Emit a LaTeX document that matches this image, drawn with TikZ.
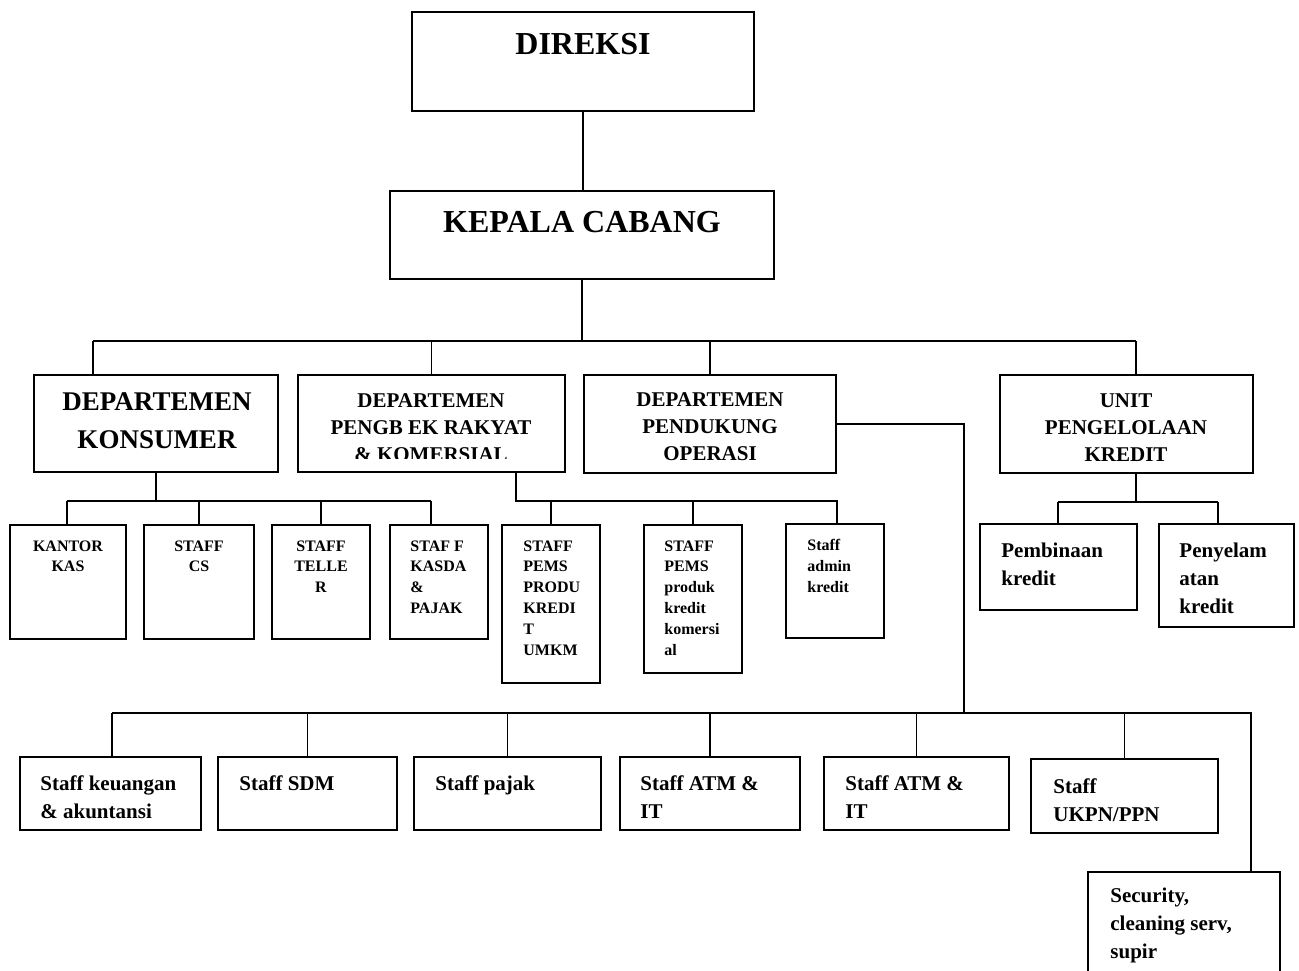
\documentclass[tikz,border=0pt]{standalone}
\usepackage{fontspec}
\setmainfont{Liberation Serif}
\tikzset{
  orgbox/.style={draw, line width=0.9pt, inner sep=0pt},
  boxtext/.style={inner sep=0pt},
  link/.style={line width=0.9pt},
  fbig/.style={font=\bfseries\fontsize{16}{19}\selectfont},
  fkons/.style={font=\bfseries\fontsize{13.5}{19}\selectfont},
  fdept/.style={font=\bfseries\fontsize{10.5}{13.5}\selectfont},
  fsmall/.style={font=\bfseries\fontsize{8}{10.4}\selectfont},
  fmid/.style={font=\bfseries\fontsize{10.5}{14}\selectfont},
}
\begin{document}
\begin{tikzpicture}[x=0.5pt, y=-0.5pt]
        \useasboundingbox (0,0) rectangle (1299,970);
        \clip (0,0) rectangle (1299,970);

        % Draw the top of the chart
        \node[orgbox, minimum width=171pt, minimum height=49.5pt] (dir) at (583,61.5) {};
        \node[boxtext, fbig, anchor=north] (tdir) at (583,33) {DIREKSI};
        \node[orgbox, minimum width=192pt, minimum height=44pt] (kc) at (582,235) {};
        \node[boxtext, fbig, anchor=north] (tkc) at (582,211) {KEPALA CABANG};

        % Draw the departments
        \node[orgbox, minimum width=122pt, minimum height=48.5pt] (kons) at (156,423.5) {};
        \node[boxtext, fkons, anchor=north, align=center] (tkons) at (157,392) {DEPARTEMEN\\KONSUMER};
        \node[orgbox, minimum width=133.5pt, minimum height=48.5pt] (pengb) at (431.5,423.5) {};
        \begin{scope}
          \clip (298,375) rectangle (565,458);
          \node[boxtext, fdept, anchor=north, align=center] (tpengb) at (431,393) {DEPARTEMEN\\PENGB EK RAKYAT\\\& KOMERSIAL};
        \end{scope}
        \node[orgbox, minimum width=126pt, minimum height=49pt] (pend) at (710,424) {};
        \node[boxtext, fdept, anchor=north, align=center] (tpend) at (710,392) {DEPARTEMEN\\PENDUKUNG\\OPERASI};
        \node[orgbox, minimum width=126.5pt, minimum height=49pt] (unit) at (1126.5,424) {};
        \node[boxtext, fdept, anchor=north, align=center] (tunit) at (1126,393) {UNIT\\PENGELOLAAN\\KREDIT};

        % Draw the staff of the consumer department
        \node[orgbox, minimum width=58pt, minimum height=57pt] (kas) at (68,582) {};
        \node[boxtext, fsmall, anchor=north, align=center] (tkas) at (68,540) {KANTOR\\KAS};
        \node[orgbox, minimum width=55pt, minimum height=57pt] (cs) at (199,582) {};
        \node[boxtext, fsmall, anchor=north, align=center] (tcs) at (199,540) {STAFF\\CS};
        \node[orgbox, minimum width=49pt, minimum height=57pt] (teller) at (321,582) {};
        \node[boxtext, fsmall, anchor=north, align=center] (tteller) at (321,540) {STAFF\\TELLE\\R};
        \node[orgbox, minimum width=49pt, minimum height=57pt] (kasda) at (439,582) {};
        \node[boxtext, fsmall, anchor=north west, align=left] (tkasda) at (410,540) {STAF F\\KASDA\\\&\\PAJAK};

        % Draw the staff of the second department
        \node[orgbox, minimum width=49pt, minimum height=79pt] (umkm) at (551,604) {};
        \node[boxtext, fsmall, anchor=north west, align=left] (tumkm) at (523,540) {STAFF\\PEMS\\PRODU\\KREDI\\T\\UMKM};
        \node[orgbox, minimum width=49pt, minimum height=74pt] (komersial) at (693,599) {};
        \node[boxtext, fsmall, anchor=north west, align=left] (tkomersial) at (664,540) {STAFF\\PEMS\\produk\\kredit\\komersi\\al};
        \node[orgbox, minimum width=49pt, minimum height=57pt] (admin) at (835,581) {};
        \node[boxtext, fsmall, anchor=north west, align=left] (tadmin) at (807,539) {Staff\\admin\\kredit};

        % Draw the staff of the credit unit
        \node[orgbox, minimum width=78.5pt, minimum height=43pt] (pemb) at (1058.5,567) {};
        \node[boxtext, fmid, anchor=north west, align=left] (tpemb) at (1001,543) {Pembinaan\\kredit};
        \node[orgbox, minimum width=67.5pt, minimum height=51.5pt] (peny) at (1226.5,575.5) {};
        \node[boxtext, fmid, anchor=north west, align=left] (tpeny) at (1179,543) {Penyelam\\atan\\kredit};

        % Draw the staff of the support department
        \node[orgbox, minimum width=90.5pt, minimum height=36.5pt] (keu) at (110.5,793.5) {};
        \node[boxtext, fmid, anchor=north west, align=left] (tkeu) at (40,775) {Staff keuangan\\\& akuntansi};
        \node[orgbox, minimum width=89.5pt, minimum height=36.5pt] (sdm) at (307.5,793.5) {};
        \node[boxtext, fmid, anchor=north west] (tsdm) at (239,775) {Staff SDM};
        \node[orgbox, minimum width=93.5pt, minimum height=36.5pt] (pajak) at (507.5,793.5) {};
        \node[boxtext, fmid, anchor=north west] (tpajak) at (435,775) {Staff pajak};
        \node[orgbox, minimum width=90pt, minimum height=36.5pt] (atm1) at (710,793.5) {};
        \node[boxtext, fmid, anchor=north west, align=left] (tatm1) at (640,775) {Staff ATM \&\\IT};
        \node[orgbox, minimum width=92.5pt, minimum height=36.5pt] (atm2) at (916.5,793.5) {};
        \node[boxtext, fmid, anchor=north west, align=left] (tatm2) at (845,775) {Staff ATM \&\\IT};
        \node[orgbox, minimum width=93.5pt, minimum height=37pt] (ukpn) at (1124.5,796) {};
        \node[boxtext, fmid, anchor=north west, align=left] (tukpn) at (1053,778) {Staff\\UKPN/PPN};
        \node[orgbox, minimum width=96pt, minimum height=64pt] (sec) at (1184,936) {};
        \node[boxtext, fmid, anchor=north west, align=left] (tsec) at (1110,888) {Security,\\cleaning serv,\\supir};

        % Connect the top boxes and the departments
        \coordinate (busL) at (93,341);
        \coordinate (busR) at (1136,341);
        \draw[link] (dir.south) -- (dir.south |- kc.north);
        \draw[link] (kc.south) -- (kc.south |- busL);
        \draw[link] (busL) -- (busR);
        \draw[link] (busL) -- (busL |- kons.north);
        \draw[link] (pengb.north |- busL) -- (pengb.north);
        \draw[link] (pend.north |- busL) -- (pend.north);
        \draw[link] (busR) -- (busR |- unit.north);

        % Connect the consumer department
        \coordinate (konsL) at (67,501);
        \coordinate (konsR) at (431,501);
        \draw[link] (kons.south) -- (kons.south |- konsL);
        \draw[link] (konsL) -- (konsR);
        \draw[link] (konsL) -- (konsL |- kas.north);
        \draw[link] (cs.north |- konsL) -- (cs.north);
        \draw[link] (teller.north |- konsL) -- (teller.north);
        \draw[link] (konsR) -- (konsR |- kasda.north);

        % Connect the second department
        \coordinate (pengbL) at (516,501);
        \coordinate (pengbR) at (837,501);
        \draw[link] (pengbL |- pengb.south) -- (pengbL) -- (pengbR) -- (pengbR |- admin.north);
        \draw[link] (umkm.north |- pengbL) -- (umkm.north);
        \draw[link] (komersial.north |- pengbL) -- (komersial.north);

        % Connect the support department
        \coordinate (pendL) at (112,713);
        \coordinate (pendM) at (964,713);
        \coordinate (pendR) at (1251,713);
        \draw[link] (pend.east) -| (pendM);
        \draw[link] (pendL) -- (pendR) -- (pendR |- sec.north);
        \draw[link] (pendL) -- (pendL |- keu.north);
        \foreach \n in {sdm, pajak, atm1, atm2, ukpn}
          \draw[link] (\n.north |- pendL) -- (\n.north);

        % Connect the credit unit
        \coordinate (unitL) at (1058,502);
        \coordinate (unitR) at (1218,502);
        \draw[link] (busR |- unit.south) -- (busR |- unitL);
        \draw[link] (unitL) -- (unitR);
        \draw[link] (unitL) -- (unitL |- pemb.north);
        \draw[link] (unitR) -- (unitR |- peny.north);
\end{tikzpicture}
\end{document}
